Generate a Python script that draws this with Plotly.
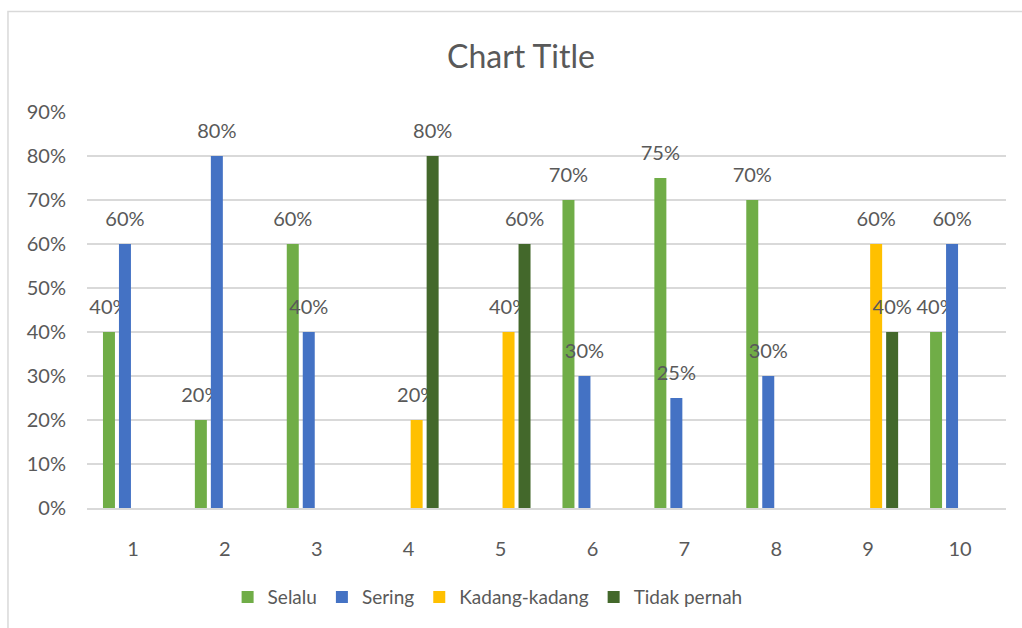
import plotly.graph_objects as go

categories = ["1", "2", "3", "4", "5", "6", "7", "8", "9", "10"]
selalu = [0.40, 0.20, 0.60, None, None, 0.70, 0.75, 0.70, None, 0.40]
sering = [0.60, 0.80, 0.40, None, None, 0.30, 0.25, 0.30, None, 0.60]
kadang = [None, None, None, 0.20, 0.40, None, None, None, 0.60, None]
tidak = [None, None, None, 0.80, 0.60, None, None, None, 0.40, None]

series = [
    ("Selalu", selalu, "#70AD47"),
    ("Sering", sering, "#4472C4"),
    ("Kadang-kadang", kadang, "#FFC000"),
    ("Tidak pernah", tidak, "#43682B"),
]

FONT = "Lato"
TXT = "#595959"

fig = go.Figure()
for name, vals, color in series:
    labels = [("" if v is None else
               f"<span style='font-size:20px'>{round(v*100)}%</span><br> ") for v in vals]
    fig.add_trace(go.Bar(
        name=name, x=categories, y=vals, marker_color=color,
        marker_line_width=0,
        text=labels, textposition="outside", cliponaxis=False,
        constraintext="none",
        textfont=dict(family=FONT, size=10, color=TXT),
    ))

fig.update_layout(
    width=1022, height=628,
    paper_bgcolor="white", plot_bgcolor="white",
    margin=dict(l=87, r=16, t=112, b=120),
    barmode="group", bargap=0.304, bargroupgap=0.25,
    title=dict(text="Chart Title", x=521 / 1022, xref="container", xanchor="center",
               y=1 - 57 / 628, yref="container", yanchor="middle",
               font=dict(family=FONT, size=32, color=TXT)),
    showlegend=True,
    legend=dict(orientation="h", x=0.153, xanchor="left", y=-0.225, yanchor="middle",
                font=dict(family=FONT, size=19, color=TXT), traceorder="normal",
                itemwidth=30),
    font=dict(family=FONT, color=TXT),
    shapes=[dict(type="rect", xref="paper", yref="paper", x0=-0.086, x1=1.03,
                 y0=-0.35, y1=1.254, line=dict(color="#D9D9D9", width=1.5),
                 fillcolor="rgba(0,0,0,0)", layer="below")],
)
fig.update_yaxes(range=[0, 0.9], dtick=0.1, tickformat=".0%", showgrid=True,
                 gridcolor="#D9D9D9", gridwidth=1.5, zeroline=False, showline=False,
                 ticks="", ticklabelstandoff=20,
                 tickfont=dict(family=FONT, size=20, color=TXT))
fig.update_xaxes(type="category", showgrid=False, showline=True, linecolor="#D9D9D9",
                 linewidth=1.5, ticks="", ticklabelstandoff=22,
                 tickfont=dict(family=FONT, size=20, color=TXT))

fig.write_html("out.html")
